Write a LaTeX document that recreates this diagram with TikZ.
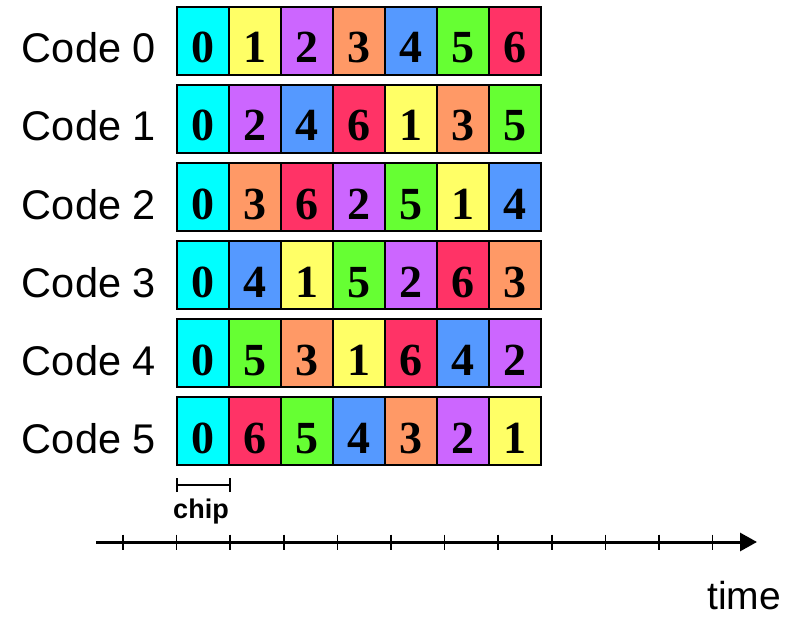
\documentclass[tikz,border=0pt]{standalone}
\usepackage{fontspec}
\setmainfont{Liberation Serif}
\setsansfont{Liberation Sans}
\usepackage{tikz}
\usetikzlibrary{arrows.meta}
\usetikzlibrary{math}
\definecolor{chipcol0}{RGB}{0, 255, 255}
\definecolor{chipcol1}{RGB}{255, 255, 102}
\definecolor{chipcol2}{RGB}{204, 102, 255}
\definecolor{chipcol3}{RGB}{255, 153, 102}
\definecolor{chipcol4}{RGB}{85, 153, 255}
\definecolor{chipcol5}{RGB}{102, 255, 51}
\definecolor{chipcol6}{RGB}{255, 51, 102}

\begin{document}
\begin{tikzpicture}[x=1pt,y=-1pt,
  chipcell/.style={draw, line width=2.2pt, minimum width=52pt, minimum height=68pt,
    inner sep=0pt, text height=44pt, text depth=0pt,
    font=\fontsize{46}{46}\selectfont\bfseries},
  codelabel/.style={anchor=base east, inner sep=0pt, font=\fontsize{41.5}{41.5}\selectfont\sffamily}]
\tikzmath{
\xsh=203;
\ysh=41;
\rowstep=78;
\axisy=542;
}
\useasboundingbox (0,0) rectangle (804,623);

 %codes
 \foreach \k in {0,...,5}{
  \node[codelabel] (code\k) at (156,\ysh+22+\k*\rowstep) {Code \k};
  \foreach \j in {0,...,6}{
   \pgfmathtruncatemacro\v{mod((\k+1)*\j,7)}
   \node[chipcell, fill=chipcol\v] (c\k\j) at (\xsh+\j*52,\ysh+\k*\rowstep) {\v};
  }
 }

 %chip
 \coordinate (chipL) at (177,485);
 \coordinate (chipR) at (230,485);
 \draw[line width=1.5pt] (chipL) -- (chipR);
 \draw[line width=1.5pt] ([yshift=-7pt]chipL) -- ([yshift=7pt]chipL);
 \draw[line width=1.5pt] ([yshift=-7pt]chipR) -- ([yshift=7pt]chipR);
 \node[anchor=base, inner sep=0pt, font=\fontsize{27}{27}\selectfont\sffamily\bfseries] (chip) at (201,518) {chip};

 %time axis
 \coordinate (tstart) at (96,\axisy);
 \coordinate (tend) at (757,\axisy);
 \draw[line width=3pt, -{Triangle[length=17pt,width=18pt]}] (tstart) -- (tend);
 \foreach \i in {0,...,11}
  \draw[line width=1.5pt] (123+\i*53.6,\axisy-7.5) -- (123+\i*53.6,\axisy+7.5);
 \node[anchor=base, inner sep=0pt, font=\fontsize{39}{39}\selectfont\sffamily] (time) at (744,609) {time};

\end{tikzpicture}
\end{document}
